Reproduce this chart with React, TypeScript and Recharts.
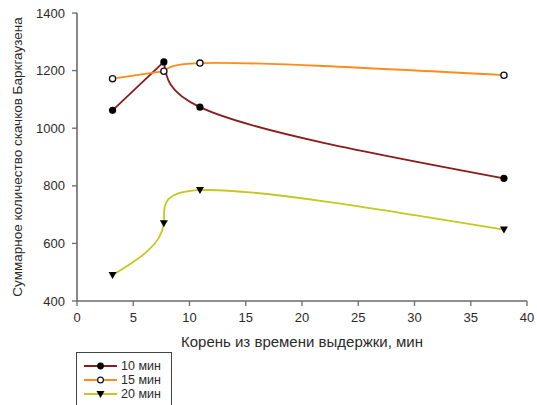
import React from 'react';
import { LineChart, Line, XAxis, YAxis, Legend } from 'recharts';

// ---- data ----
const xValues = [3.16, 7.72, 10.93, 37.95];
const series10 = [1062, 1230, 1073, 826];
const series15 = [1172, 1198, 1226, 1184];
const series20 = [490, 670, 785, 648];
const seriesNames = ['10 мин', '15 мин', '20 мин'];
const xTicks = [0, 5, 10, 15, 20, 25, 30, 35, 40];
const yTicks = [400, 600, 800, 1000, 1200, 1400];
const xTitle = 'Корень из времени выдержки, мин';
const yTitle = 'Суммарное количество скачков Баркгаузена';

const data = xValues.map((x, i) => ({ x, s10: series10[i], s15: series15[i], s20: series20[i] }));

// ---- layout ----
const W = 537;
const H = 405;
const M = { top: 13, right: 10, bottom: 74, left: 0 };
const Y_AXIS_W = 77;
const X_AXIS_H = 30;
const PLOT_W = W - M.left - M.right - Y_AXIS_W;
const PLOT_H = H - M.top - M.bottom - X_AXIS_H;
const SX = PLOT_W / 40;
const SY = PLOT_H / 1000;

const FONT = '"Liberation Sans", Arial, sans-serif';
const AXIS_COLOR = '#6a6a6a';
const TEXT_COLOR = '#2a2a2a';
const C10 = '#8a1c1c';
const C15 = '#ff8c1a';
const C20 = '#c5c81e';

// parametric natural cubic spline (chord length in data units)
function drawSpline(ctx: any, p: number[][]) {
  const n = p.length;
  const h: number[] = [];
  for (let i = 0; i < n - 1; i++) {
    h.push(Math.hypot((p[i + 1][0] - p[i][0]) / SX, (p[i + 1][1] - p[i][1]) / SY) || 1e-6);
  }
  const Ms: number[][] = [];
  for (let c = 0; c < 2; c++) {
    const Mv = new Array(n).fill(0);
    const m = n - 2;
    if (m > 0) {
      const a: number[] = [], b: number[] = [], cc: number[] = [], d: number[] = [];
      for (let i = 1; i <= m; i++) {
        a.push(h[i - 1]);
        b.push(2 * (h[i - 1] + h[i]));
        cc.push(h[i]);
        d.push(6 * ((p[i + 1][c] - p[i][c]) / h[i] - (p[i][c] - p[i - 1][c]) / h[i - 1]));
      }
      for (let i = 1; i < m; i++) {
        const w = a[i] / b[i - 1];
        b[i] -= w * cc[i - 1];
        d[i] -= w * d[i - 1];
      }
      const sol = new Array(m).fill(0);
      sol[m - 1] = d[m - 1] / b[m - 1];
      for (let i = m - 2; i >= 0; i--) sol[i] = (d[i] - cc[i] * sol[i + 1]) / b[i];
      for (let i = 0; i < m; i++) Mv[i + 1] = sol[i];
    }
    Ms.push(Mv);
  }
  for (let i = 0; i < n - 1; i++) {
    const hi = h[i];
    const c1: number[] = [], c2: number[] = [];
    for (let c = 0; c < 2; c++) {
      const s = (p[i + 1][c] - p[i][c]) / hi;
      const d0 = s - (hi * (2 * Ms[c][i] + Ms[c][i + 1])) / 6;
      const d1 = s + (hi * (Ms[c][i] + 2 * Ms[c][i + 1])) / 6;
      c1.push(p[i][c] + (d0 * hi) / 3);
      c2.push(p[i + 1][c] - (d1 * hi) / 3);
    }
    ctx.bezierCurveTo(c1[0], c1[1], c2[0], c2[1], p[i + 1][0], p[i + 1][1]);
  }
}

function makeCurve(straightCount: number) {
  return function (context: any) {
    let pts: number[][] = [];
    return {
      areaStart() {},
      areaEnd() {},
      lineStart() {
        pts = [];
      },
      point(x: number, y: number) {
        pts.push([+x, +y]);
      },
      lineEnd() {
        if (!pts.length) return;
        context.moveTo(pts[0][0], pts[0][1]);
        for (let i = 1; i <= straightCount && i < pts.length; i++) context.lineTo(pts[i][0], pts[i][1]);
        const sp = pts.slice(straightCount);
        if (sp.length >= 2) drawSpline(context, sp);
      },
    };
  };
}

const curve10 = makeCurve(1);
const curve15 = makeCurve(1);
const curve20 = makeCurve(0);

const FilledCircle = (props: any) => (
  <circle key={`a${props.index}`} cx={props.cx} cy={props.cy} r={3.6} fill="#000" />
);
const OpenCircle = (props: any) => (
  <circle key={`b${props.index}`} cx={props.cx} cy={props.cy} r={3.1} fill="#fff" stroke="#111" strokeWidth={1.3} />
);
const triPath = (cx: number, cy: number) => `M${cx - 4},${cy - 3} L${cx + 4},${cy - 3} L${cx},${cy + 4} Z`;
const TriDown = (props: any) => <path key={`c${props.index}`} d={triPath(props.cx, props.cy)} fill="#000" />;

const legendRows = [
  { name: seriesNames[0], color: C10, kind: 'filled' },
  { name: seriesNames[1], color: C15, kind: 'open' },
  { name: seriesNames[2], color: C20, kind: 'tri' },
];

const LegendBox = () => (
  <svg width={96} height={60} style={{ display: 'block' }}>
    <rect x={0.5} y={0.5} width={95} height={70} fill="#fff" stroke="#444" strokeWidth={1} />
    {legendRows.map((r, i) => {
      const y = 14 + i * 14;
      return (
        <g key={r.name}>
          <line x1={8} x2={41} y1={y} y2={y} stroke={r.color} strokeWidth={1.8} />
          {r.kind === 'filled' && <circle cx={24.5} cy={y} r={3.4} fill="#000" />}
          {r.kind === 'open' && <circle cx={24.5} cy={y} r={2.9} fill="#fff" stroke="#111" strokeWidth={1.2} />}
          {r.kind === 'tri' && <path d={triPath(24.5, y)} fill="#000" />}
          <text x={45} y={y + 4.3} fontSize={12.5} fontFamily={FONT} fill={TEXT_COLOR}>
            {r.name}
          </text>
        </g>
      );
    })}
  </svg>
);

const tickStyle = { fontSize: 13, fill: TEXT_COLOR, fontFamily: FONT };

export default function App() {
  return (
    <div style={{ position: 'absolute', left: 0, top: 0, width: W, height: H, background: '#fff' }}>
      <LineChart width={W} height={H} data={data} margin={M} style={{ fontFamily: FONT }}>
        <XAxis
          dataKey="x"
          type="number"
          domain={[0, 40]}
          ticks={xTicks}
          height={X_AXIS_H}
          tick={tickStyle}
          tickSize={5}
          tickMargin={7}
          axisLine={{ stroke: AXIS_COLOR, strokeWidth: 1.6 }}
          tickLine={{ stroke: AXIS_COLOR, strokeWidth: 1.3 }}
          label={{
            content: (p: any) => {
              const vb = p.viewBox || {};
              return (
                <text x={vb.x + vb.width / 2} y={vb.y + 46} textAnchor="middle" fontSize={15} fontFamily={FONT} fill={TEXT_COLOR}>
                  {xTitle}
                </text>
              );
            },
          }}
        />
        <XAxis xAxisId="top" orientation="top" type="number" domain={[0, 40]} height={0} tick={false} tickLine={false} axisLine={{ stroke: AXIS_COLOR, strokeWidth: 1.6 }} />
        <YAxis
          type="number"
          domain={[400, 1400]}
          ticks={yTicks}
          width={Y_AXIS_W}
          tick={tickStyle}
          tickSize={5}
          tickMargin={7}
          axisLine={{ stroke: AXIS_COLOR, strokeWidth: 1.6 }}
          tickLine={{ stroke: AXIS_COLOR, strokeWidth: 1.3 }}
          label={{
            content: (p: any) => {
              const vb = p.viewBox || {};
              const cx = 17;
              const cy = vb.y + vb.height / 2;
              return (
                <text x={cx} y={cy} transform={`rotate(-90 ${cx} ${cy})`} textAnchor="middle" dominantBaseline="central" fontSize={13.5} fontFamily={FONT} fill={TEXT_COLOR}>
                  {yTitle}
                </text>
              );
            },
          }}
        />
        <YAxis yAxisId="right" orientation="right" type="number" domain={[400, 1400]} width={0} tick={false} tickLine={false} axisLine={{ stroke: AXIS_COLOR, strokeWidth: 1.6 }} />
        <Legend
          layout="horizontal"
          verticalAlign="middle"
          align="center"
          wrapperStyle={{ position: 'absolute', left: 76, top: 352, width: 96, height: 60 }}
          content={() => <LegendBox />}
        />
        <Line dataKey="s10" name={seriesNames[0]} type={curve10 as any} stroke={C10} strokeWidth={1.8} dot={FilledCircle} activeDot={false} isAnimationActive={false} />
        <Line dataKey="s15" name={seriesNames[1]} type={curve15 as any} stroke={C15} strokeWidth={1.8} dot={OpenCircle} activeDot={false} isAnimationActive={false} />
        <Line dataKey="s20" name={seriesNames[2]} type={curve20 as any} stroke={C20} strokeWidth={1.8} dot={TriDown} activeDot={false} isAnimationActive={false} />
      </LineChart>
    </div>
  );
}
